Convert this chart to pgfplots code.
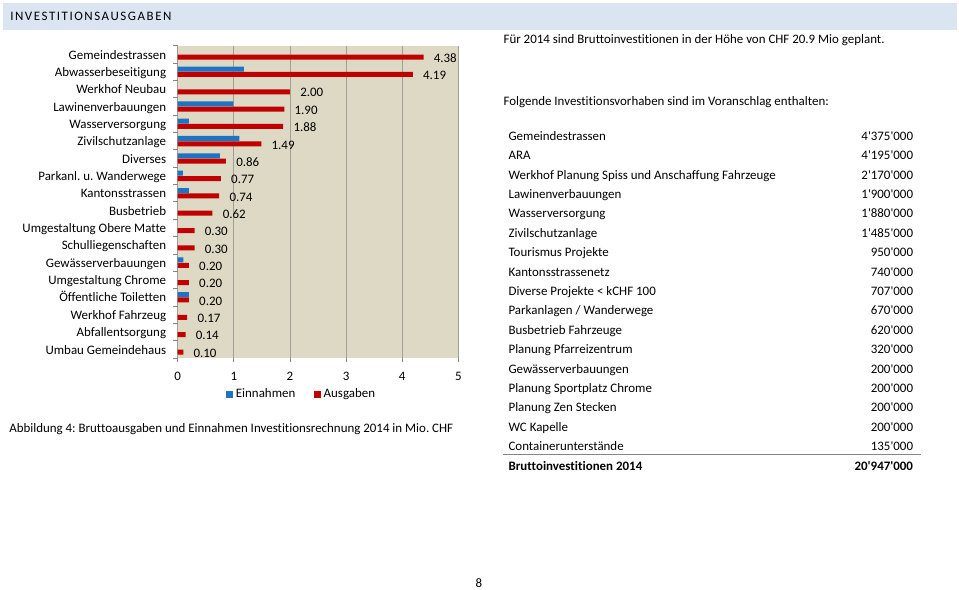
\documentclass[border=0pt]{standalone}
\usepackage{fontspec}
\setmainfont{Carlito}[Ligatures={NoCommon}]
\newfontfamily\nf{Carlito}[Ligatures={NoCommon}]
\usepackage{pgfplots}
\pgfplotsset{compat=1.18}
\definecolor{tanbg}{RGB}{221,217,196}
\definecolor{hdr}{RGB}{219,229,241}
\definecolor{blueb}{RGB}{30,115,195}
\definecolor{redb}{RGB}{192,0,0}
\definecolor{gridc}{RGB}{160,158,150}
\definecolor{axc}{RGB}{134,134,134}
\newcommand{\fs}{\fontsize{9.7}{11.5}\selectfont}
\frenchspacing
\begin{document}
\fs
\begin{tikzpicture}
\begin{scope}[x=0.75pt,y=-0.75pt]
\path[use as bounding box, fill=white] (0,0) rectangle (959,589);
\fill[hdr] (3,3) rectangle (956.5,30);
\node[anchor=base west, inner sep=0pt, font=\fs\addfontfeatures{LetterSpace=12}] at (10,20.5) {INVESTITIONSAUSGABEN};
\node[anchor=base west, inner sep=0pt, font=\fs] at (9,432.2) {Abbildung 4: Bruttoausgaben und Einnahmen Investitionsrechnung 2014 in Mio. CHF};
\node[anchor=base west, inner sep=0pt, font=\fs] at (503.3,43.2) {Für 2014 sind Bruttoinvestitionen in der Höhe von CHF 20.9 Mio geplant.};
\node[anchor=base west, inner sep=0pt, font=\fs] at (503.3,105.7) {Folgende Investitionsvorhaben sind im Voranschlag enthalten:};
\foreach \nm/\val [count=\i from 0] in {
 Gemeindestrassen/4'375'000,
 ARA/4'195'000,
 Werkhof Planung Spiss und Anschaffung Fahrzeuge/2'170'000,
 Lawinenverbauungen/1'900'000,
 Wasserversorgung/1'880'000,
 Zivilschutzanlage/1'485'000,
 Tourismus Projekte/950'000,
 Kantonsstrassenetz/740'000,
 Diverse Projekte < kCHF 100/707'000,
 {Parkanlagen / Wanderwege}/670'000,
 Busbetrieb Fahrzeuge/620'000,
 Planung Pfarreizentrum/320'000,
 Gewässerverbauungen/200'000,
 Planung Sportplatz Chrome/200'000,
 Planung Zen Stecken/200'000,
 WC Kapelle/200'000,
 Containerunterstände/135'000}{
 \node[anchor=base west, inner sep=0pt, font=\fs] at (508.3,140.2+19.4*\i) {\nm};
 \node[anchor=base east, inner sep=0pt, font=\fs\nf] at (913.3,140.2+19.4*\i) {\val};
}
\draw[axc, line width=1.1pt] (503,454.5) -- (921,454.5);
\node[anchor=base west, inner sep=0pt, font=\fs\bfseries] at (508.3,470.2) {Bruttoinvestitionen 2014};
\node[anchor=base east, inner sep=0pt, font=\fs\nf\bfseries] at (913.3,470.2) {20'947'000};
\node[anchor=base, inner sep=0pt, font=\fs] at (479,587) {8};
\end{scope}
\begin{axis}[
 at={(133.275pt,-268.5pt)}, anchor=south west,
 width=210.45pt, height=234.2pt, scale only axis,
 xmin=0, xmax=5, ymin=-0.5, ymax=17.5, y dir=reverse,
 xbar, bar width=3.75pt,
 axis background/.style={fill=tanbg},
 axis line style={draw=none},
 xmajorgrids, grid style={gridc, line width=0.6pt},
 xtick={0,1,2,3,4,5},
 ytick={0,...,17},
 minor ytick={-0.5,0.5,...,17.5},
 tick align=outside, major tick length=3pt, minor tick length=3.5pt,
 xtick pos=bottom, ytick pos=left,
 every major y tick/.style={draw=none},
 every minor y tick/.style={axc, line width=0.6pt},
 every major x tick/.style={axc, line width=0.6pt},
 yticklabels={Gemeindestrassen, Abwasserbeseitigung, Werkhof Neubau, Lawinenverbauungen, Wasserversorgung, Zivilschutzanlage, Diverses, {Parkanl. u. Wanderwege}, Kantonsstrassen, Busbetrieb, {Umgestaltung Obere Matte}, Schulliegenschaften, Gewässerverbauungen, {Umgestaltung Chrome}, {Öffentliche Toiletten}, {Werkhof Fahrzeug}, Abfallentsorgung, {Umbau Gemeindehaus}},
 ticklabel style={font=\fs},
 yticklabel style={xshift=-2.25pt, text height=6.6pt, text depth=2.2pt, yshift=-1.3pt},
 xticklabel style={yshift=-4.5pt},
 /pgf/number format/assume math mode=true,
 clip=false,
 legend style={at={(0.443,-0.116)}, anchor=center, draw=none, fill=none, legend columns=-1, font=\fs, /tikz/every even column/.append style={column sep=12pt}},
 legend image code/.code={\fill[#1] (0pt,-2.6pt) rectangle (5.25pt,2.6pt);},
]
\addplot[fill=blueb, draw=none, bar shift=2pt] coordinates {
 (1.18,1) (0.99,3) (0.20,4) (1.10,5) (0.75,6) (0.09,7) (0.20,8) (0.10,12) (0.20,14)};
\addlegendentry{Einnahmen}
\addplot[fill=redb, draw=none, bar shift=-2pt, point meta=x,
 nodes near coords={\pgfmathprintnumber[fixed,fixed zerofill,precision=2,assume math mode=true]{\pgfplotspointmeta}},
 every node near coord/.append style={font=\fs, text=black, anchor=west, xshift=4.3pt, yshift=-0.8pt}] coordinates {
 (4.38,0) (4.19,1) (2.00,2) (1.90,3) (1.88,4) (1.49,5) (0.86,6) (0.77,7) (0.74,8) (0.62,9)
 (0.30,10) (0.30,11) (0.20,12) (0.20,13) (0.20,14) (0.17,15) (0.14,16) (0.10,17)};
\addlegendentry{Ausgaben}
\end{axis}
\end{tikzpicture}
\end{document}
